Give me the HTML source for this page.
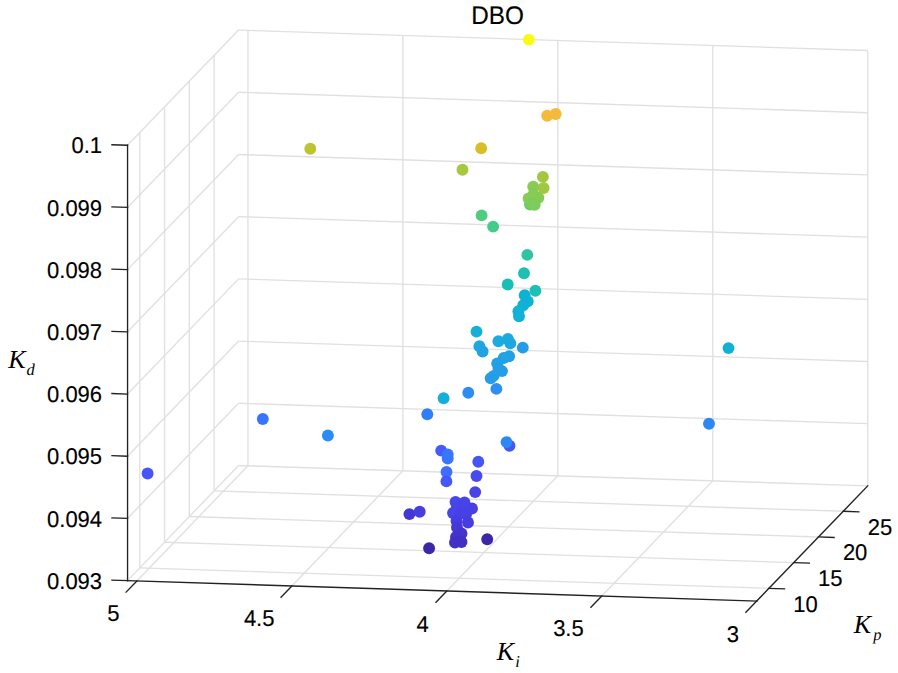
<!DOCTYPE html>
<html><head><meta charset="utf-8"><style>
html,body{margin:0;padding:0;background:#fff;overflow:hidden;}
svg{display:block;}
text{font-family:"Liberation Sans",sans-serif;fill:#000;stroke:#000;stroke-width:0.15px;}
.ser{font-family:"Liberation Serif",serif;font-style:italic;stroke:none;}
</style></head><body>
<svg width="898" height="673" viewBox="0 0 898 673" text-rendering="geometricPrecision">
<rect width="898" height="673" fill="#fff"/>
<g stroke-linecap="butt">
<line x1="247.94" y1="465.77" x2="247.94" y2="30.39" stroke="#e0e0e0" stroke-width="1.35"/>
<line x1="402.89" y1="470.80" x2="402.89" y2="35.42" stroke="#e0e0e0" stroke-width="1.35"/>
<line x1="557.84" y1="475.83" x2="557.84" y2="40.45" stroke="#e0e0e0" stroke-width="1.35"/>
<line x1="712.79" y1="480.86" x2="712.79" y2="45.48" stroke="#e0e0e0" stroke-width="1.35"/>
<line x1="867.74" y1="485.89" x2="867.74" y2="50.51" stroke="#e0e0e0" stroke-width="1.35"/>
<line x1="238.58" y1="465.46" x2="867.74" y2="485.89" stroke="#e0e0e0" stroke-width="1.35"/>
<line x1="238.58" y1="403.27" x2="867.74" y2="423.69" stroke="#e0e0e0" stroke-width="1.35"/>
<line x1="238.58" y1="341.07" x2="867.74" y2="361.49" stroke="#e0e0e0" stroke-width="1.35"/>
<line x1="238.58" y1="278.87" x2="867.74" y2="299.30" stroke="#e0e0e0" stroke-width="1.35"/>
<line x1="238.58" y1="216.68" x2="867.74" y2="237.10" stroke="#e0e0e0" stroke-width="1.35"/>
<line x1="238.58" y1="154.48" x2="867.74" y2="174.91" stroke="#e0e0e0" stroke-width="1.35"/>
<line x1="238.58" y1="92.29" x2="867.74" y2="112.71" stroke="#e0e0e0" stroke-width="1.35"/>
<line x1="238.58" y1="30.09" x2="867.74" y2="50.51" stroke="#e0e0e0" stroke-width="1.35"/>
<line x1="139.79" y1="567.92" x2="139.79" y2="132.55" stroke="#e0e0e0" stroke-width="1.35"/>
<line x1="164.56" y1="542.23" x2="164.56" y2="106.86" stroke="#e0e0e0" stroke-width="1.35"/>
<line x1="189.33" y1="516.54" x2="189.33" y2="81.17" stroke="#e0e0e0" stroke-width="1.35"/>
<line x1="214.10" y1="490.85" x2="214.10" y2="55.48" stroke="#e0e0e0" stroke-width="1.35"/>
<line x1="127.55" y1="580.62" x2="238.58" y2="465.46" stroke="#e0e0e0" stroke-width="1.35"/>
<line x1="127.55" y1="518.42" x2="238.58" y2="403.27" stroke="#e0e0e0" stroke-width="1.35"/>
<line x1="127.55" y1="456.23" x2="238.58" y2="341.07" stroke="#e0e0e0" stroke-width="1.35"/>
<line x1="127.55" y1="394.03" x2="238.58" y2="278.87" stroke="#e0e0e0" stroke-width="1.35"/>
<line x1="127.55" y1="331.84" x2="238.58" y2="216.68" stroke="#e0e0e0" stroke-width="1.35"/>
<line x1="127.55" y1="269.64" x2="238.58" y2="154.48" stroke="#e0e0e0" stroke-width="1.35"/>
<line x1="127.55" y1="207.44" x2="238.58" y2="92.29" stroke="#e0e0e0" stroke-width="1.35"/>
<line x1="127.55" y1="145.25" x2="238.58" y2="30.09" stroke="#e0e0e0" stroke-width="1.35"/>
<line x1="136.91" y1="580.92" x2="247.94" y2="465.77" stroke="#e0e0e0" stroke-width="1.35"/>
<line x1="291.86" y1="585.95" x2="402.89" y2="470.80" stroke="#e0e0e0" stroke-width="1.35"/>
<line x1="446.81" y1="590.98" x2="557.84" y2="475.83" stroke="#e0e0e0" stroke-width="1.35"/>
<line x1="601.76" y1="596.01" x2="712.79" y2="480.86" stroke="#e0e0e0" stroke-width="1.35"/>
<line x1="756.71" y1="601.04" x2="867.74" y2="485.89" stroke="#e0e0e0" stroke-width="1.35"/>
<line x1="139.79" y1="567.92" x2="768.95" y2="588.35" stroke="#e0e0e0" stroke-width="1.35"/>
<line x1="164.56" y1="542.23" x2="793.72" y2="562.66" stroke="#e0e0e0" stroke-width="1.35"/>
<line x1="189.33" y1="516.54" x2="818.49" y2="536.97" stroke="#e0e0e0" stroke-width="1.35"/>
<line x1="214.10" y1="490.85" x2="843.26" y2="511.28" stroke="#e0e0e0" stroke-width="1.35"/>
</g>
<g stroke-linecap="square">
<line x1="127.55" y1="580.62" x2="127.55" y2="145.25" stroke="#222222" stroke-width="1.35"/>
<line x1="127.55" y1="580.62" x2="756.71" y2="601.04" stroke="#222222" stroke-width="1.35"/>
<line x1="756.71" y1="601.04" x2="867.74" y2="485.89" stroke="#222222" stroke-width="1.35"/>
<line x1="127.55" y1="580.62" x2="111.96" y2="580.11" stroke="#222222" stroke-width="1.35"/>
<line x1="127.55" y1="518.42" x2="111.96" y2="517.92" stroke="#222222" stroke-width="1.35"/>
<line x1="127.55" y1="456.23" x2="111.96" y2="455.72" stroke="#222222" stroke-width="1.35"/>
<line x1="127.55" y1="394.03" x2="111.96" y2="393.53" stroke="#222222" stroke-width="1.35"/>
<line x1="127.55" y1="331.84" x2="111.96" y2="331.33" stroke="#222222" stroke-width="1.35"/>
<line x1="127.55" y1="269.64" x2="111.96" y2="269.13" stroke="#222222" stroke-width="1.35"/>
<line x1="127.55" y1="207.44" x2="111.96" y2="206.94" stroke="#222222" stroke-width="1.35"/>
<line x1="127.55" y1="145.25" x2="111.96" y2="144.74" stroke="#222222" stroke-width="1.35"/>
<line x1="136.91" y1="580.92" x2="126.08" y2="592.15" stroke="#222222" stroke-width="1.35"/>
<line x1="291.86" y1="585.95" x2="281.03" y2="597.18" stroke="#222222" stroke-width="1.35"/>
<line x1="446.81" y1="590.98" x2="435.98" y2="602.21" stroke="#222222" stroke-width="1.35"/>
<line x1="601.76" y1="596.01" x2="590.93" y2="607.24" stroke="#222222" stroke-width="1.35"/>
<line x1="756.71" y1="601.04" x2="745.88" y2="612.27" stroke="#222222" stroke-width="1.35"/>
<line x1="768.95" y1="588.35" x2="784.54" y2="588.85" stroke="#222222" stroke-width="1.35"/>
<line x1="793.72" y1="562.66" x2="809.31" y2="563.16" stroke="#222222" stroke-width="1.35"/>
<line x1="818.49" y1="536.97" x2="834.08" y2="537.47" stroke="#222222" stroke-width="1.35"/>
<line x1="843.26" y1="511.28" x2="858.85" y2="511.78" stroke="#222222" stroke-width="1.35"/>
</g>
<text transform="translate(102.10 588.72) scale(1 1.04)" text-anchor="end" font-size="22" >0.093</text>
<text transform="translate(102.10 526.52) scale(1 1.04)" text-anchor="end" font-size="22" >0.094</text>
<text transform="translate(102.10 464.33) scale(1 1.04)" text-anchor="end" font-size="22" >0.095</text>
<text transform="translate(102.10 402.13) scale(1 1.04)" text-anchor="end" font-size="22" >0.096</text>
<text transform="translate(102.10 339.94) scale(1 1.04)" text-anchor="end" font-size="22" >0.097</text>
<text transform="translate(102.10 277.74) scale(1 1.04)" text-anchor="end" font-size="22" >0.098</text>
<text transform="translate(102.10 215.54) scale(1 1.04)" text-anchor="end" font-size="22" >0.099</text>
<text transform="translate(102.10 153.35) scale(1 1.04)" text-anchor="end" font-size="22" >0.1</text>
<text transform="translate(119.48 621.25) scale(1 1.04)" text-anchor="end" font-size="22" >5</text>
<text transform="translate(274.48 626.28) scale(1 1.04)" text-anchor="end" font-size="22" >4.5</text>
<text transform="translate(428.68 631.61) scale(1 1.04)" text-anchor="end" font-size="22" >4</text>
<text transform="translate(583.73 636.44) scale(1 1.04)" text-anchor="end" font-size="22" >3.5</text>
<text transform="translate(738.98 641.87) scale(1 1.04)" text-anchor="end" font-size="22" >3</text>
<text transform="translate(793.34 611.85) scale(1 1.04)" text-anchor="start" font-size="22" >10</text>
<text transform="translate(818.11 586.16) scale(1 1.04)" text-anchor="start" font-size="22" >15</text>
<text transform="translate(842.88 560.47) scale(1 1.04)" text-anchor="start" font-size="22" >20</text>
<text transform="translate(867.65 534.78) scale(1 1.04)" text-anchor="start" font-size="22" >25</text>
<text transform="translate(497.6 24.0) scale(1 1.05)" text-anchor="middle" font-size="24.3">DBO</text>
<text class="ser" x="8.2" y="368.4" font-size="26">K<tspan font-size="16.5" dx="0.9" dy="6.4">d</tspan></text>
<text class="ser" x="496.8" y="659.6" font-size="26">K<tspan font-size="16.5" dx="1.0" dy="7.2">i</tspan></text>
<text class="ser" x="853.8" y="633.0" font-size="26">K<tspan font-size="16.5" dx="2.0" dy="7.2">p</tspan></text>
<circle cx="528.9" cy="39.6" r="5.95" fill="#f9fb15" stroke="#e0e112" stroke-width="0.0"/>
<circle cx="547.2" cy="115.7" r="5.95" fill="#f4ba39" stroke="#dba733" stroke-width="0.0"/>
<circle cx="555.7" cy="114.0" r="5.95" fill="#f5ba3a" stroke="#dca734" stroke-width="0.0"/>
<circle cx="481.2" cy="148.3" r="5.95" fill="#d9be28" stroke="#c3ab24" stroke-width="0.0"/>
<circle cx="310.3" cy="148.7" r="5.95" fill="#bcc42f" stroke="#a9b02a" stroke-width="0.0"/>
<circle cx="462.5" cy="169.7" r="5.95" fill="#a5c83d" stroke="#94b436" stroke-width="0.0"/>
<circle cx="542.9" cy="176.9" r="5.95" fill="#a3c83f" stroke="#92b438" stroke-width="0.0"/>
<circle cx="543.6" cy="188.0" r="5.95" fill="#a0c941" stroke="#90b43a" stroke-width="0.0"/>
<circle cx="530.0" cy="204.5" r="5.95" fill="#62cd70" stroke="#58b864" stroke-width="0.0"/>
<circle cx="533.2" cy="186.6" r="5.95" fill="#8acb52" stroke="#7cb649" stroke-width="0.0"/>
<circle cx="533.5" cy="194.5" r="5.95" fill="#86cb55" stroke="#78b64c" stroke-width="0.0"/>
<circle cx="528.6" cy="198.5" r="5.95" fill="#8acb52" stroke="#7cb649" stroke-width="0.0"/>
<circle cx="538.4" cy="197.7" r="5.95" fill="#88cb53" stroke="#7ab64a" stroke-width="0.0"/>
<circle cx="531.2" cy="203.0" r="5.95" fill="#7acc5d" stroke="#6db753" stroke-width="0.0"/>
<circle cx="534.7" cy="204.8" r="5.95" fill="#7ecc5b" stroke="#71b751" stroke-width="0.0"/>
<circle cx="481.6" cy="215.4" r="5.95" fill="#50cc80" stroke="#48b773" stroke-width="0.0"/>
<circle cx="493.1" cy="226.6" r="5.95" fill="#45cb88" stroke="#3eb67a" stroke-width="0.0"/>
<circle cx="527.3" cy="254.9" r="5.95" fill="#2fc5a2" stroke="#2ab191" stroke-width="0.0"/>
<circle cx="524.0" cy="273.3" r="5.95" fill="#1ec0b2" stroke="#1baca0" stroke-width="0.0"/>
<circle cx="507.7" cy="284.5" r="5.95" fill="#19bfb5" stroke="#16aba2" stroke-width="0.0"/>
<circle cx="535.4" cy="290.7" r="5.95" fill="#1dc0b3" stroke="#1aaca1" stroke-width="0.0"/>
<circle cx="524.7" cy="295.2" r="5.95" fill="#0db3d3" stroke="#0ba1bd" stroke-width="0.0"/>
<circle cx="527.8" cy="301.4" r="5.95" fill="#0fb2d4" stroke="#0da0be" stroke-width="0.0"/>
<circle cx="523.2" cy="305.2" r="5.95" fill="#0fb2d4" stroke="#0da0be" stroke-width="0.0"/>
<circle cx="518.4" cy="311.2" r="5.95" fill="#11b2d5" stroke="#0fa0bf" stroke-width="0.0"/>
<circle cx="519.0" cy="316.3" r="5.95" fill="#12b1d7" stroke="#109fc1" stroke-width="0.0"/>
<circle cx="476.5" cy="331.6" r="5.95" fill="#14b0d8" stroke="#129ec2" stroke-width="0.0"/>
<circle cx="728.5" cy="348.1" r="5.95" fill="#11b1d6" stroke="#0f9fc0" stroke-width="0.0"/>
<circle cx="498.4" cy="341.2" r="5.95" fill="#1babde" stroke="#1899c7" stroke-width="0.0"/>
<circle cx="507.9" cy="339.0" r="5.95" fill="#1aacdd" stroke="#179ac6" stroke-width="0.0"/>
<circle cx="510.3" cy="343.2" r="5.95" fill="#1da8e0" stroke="#1a97c9" stroke-width="0.0"/>
<circle cx="479.4" cy="346.2" r="5.95" fill="#1ea7e1" stroke="#1b96ca" stroke-width="0.0"/>
<circle cx="482.6" cy="351.5" r="5.95" fill="#21a2e4" stroke="#1d91cd" stroke-width="0.0"/>
<circle cx="522.8" cy="347.6" r="5.95" fill="#259ce7" stroke="#218ccf" stroke-width="0.0"/>
<circle cx="509.1" cy="356.3" r="5.95" fill="#22a1e4" stroke="#1e90cd" stroke-width="0.0"/>
<circle cx="503.7" cy="358.0" r="5.95" fill="#22a1e4" stroke="#1e90cd" stroke-width="0.0"/>
<circle cx="497.2" cy="363.4" r="5.95" fill="#22a1e4" stroke="#1e90cd" stroke-width="0.0"/>
<circle cx="502.0" cy="371.1" r="5.95" fill="#249ee6" stroke="#208ecf" stroke-width="0.0"/>
<circle cx="498.5" cy="368.5" r="5.95" fill="#249ee6" stroke="#208ecf" stroke-width="0.0"/>
<circle cx="493.6" cy="375.9" r="5.95" fill="#249ee6" stroke="#208ecf" stroke-width="0.0"/>
<circle cx="490.7" cy="378.2" r="5.95" fill="#259de7" stroke="#218dcf" stroke-width="0.0"/>
<circle cx="496.4" cy="388.9" r="5.95" fill="#2c8ff1" stroke="#2780d8" stroke-width="0.0"/>
<circle cx="468.3" cy="392.7" r="5.95" fill="#2d8cf3" stroke="#287eda" stroke-width="0.0"/>
<circle cx="443.6" cy="398.3" r="5.95" fill="#15afd9" stroke="#129dc3" stroke-width="0.0"/>
<circle cx="427.3" cy="414.3" r="5.95" fill="#317efb" stroke="#2c71e1" stroke-width="0.0"/>
<circle cx="262.8" cy="419.0" r="5.95" fill="#3875fe" stroke="#3269e4" stroke-width="0.0"/>
<circle cx="709.0" cy="423.8" r="5.95" fill="#2d88f6" stroke="#287add" stroke-width="0.0"/>
<circle cx="327.9" cy="435.5" r="5.95" fill="#2d8cf3" stroke="#287eda" stroke-width="0.0"/>
<circle cx="509.5" cy="445.7" r="5.95" fill="#4755f6" stroke="#3f4cdd" stroke-width="0.0"/>
<circle cx="506.5" cy="442.1" r="5.95" fill="#2d88f6" stroke="#287add" stroke-width="0.0"/>
<circle cx="441.2" cy="450.6" r="5.95" fill="#4759f9" stroke="#3f50e0" stroke-width="0.0"/>
<circle cx="447.7" cy="454.4" r="5.95" fill="#3776fe" stroke="#316ae4" stroke-width="0.0"/>
<circle cx="447.7" cy="458.5" r="5.95" fill="#3776fe" stroke="#316ae4" stroke-width="0.0"/>
<circle cx="478.3" cy="461.7" r="5.95" fill="#4755f6" stroke="#3f4cdd" stroke-width="0.0"/>
<circle cx="147.6" cy="473.5" r="5.95" fill="#4755f6" stroke="#3f4cdd" stroke-width="0.0"/>
<circle cx="446.5" cy="472.0" r="5.95" fill="#3f6eff" stroke="#3863e5" stroke-width="0.0"/>
<circle cx="476.5" cy="476.0" r="5.95" fill="#484aee" stroke="#4042d6" stroke-width="0.0"/>
<circle cx="446.4" cy="481.4" r="5.95" fill="#4758f8" stroke="#3f4fdf" stroke-width="0.0"/>
<circle cx="475.2" cy="492.1" r="5.95" fill="#4743e7" stroke="#3f3ccf" stroke-width="0.0"/>
<circle cx="455.5" cy="502.0" r="5.95" fill="#4747eb" stroke="#3f3fd3" stroke-width="0.0"/>
<circle cx="464.5" cy="502.5" r="5.95" fill="#4745e9" stroke="#3f3ed1" stroke-width="0.0"/>
<circle cx="472.0" cy="508.5" r="5.95" fill="#4741e5" stroke="#3f3ace" stroke-width="0.0"/>
<circle cx="457.0" cy="507.5" r="5.95" fill="#4745e9" stroke="#3f3ed1" stroke-width="0.0"/>
<circle cx="464.0" cy="508.0" r="5.95" fill="#4743e7" stroke="#3f3ccf" stroke-width="0.0"/>
<circle cx="466.0" cy="514.5" r="5.95" fill="#4740e3" stroke="#3f39cc" stroke-width="0.0"/>
<circle cx="453.0" cy="513.0" r="5.95" fill="#4745e9" stroke="#3f3ed1" stroke-width="0.0"/>
<circle cx="460.0" cy="513.5" r="5.95" fill="#4741e5" stroke="#3f3ace" stroke-width="0.0"/>
<circle cx="409.4" cy="514.1" r="5.95" fill="#4537d6" stroke="#3e31c0" stroke-width="0.0"/>
<circle cx="419.7" cy="511.7" r="5.95" fill="#463ee1" stroke="#3f37ca" stroke-width="0.0"/>
<circle cx="468.0" cy="522.5" r="5.95" fill="#463cdf" stroke="#3f36c8" stroke-width="0.0"/>
<circle cx="456.5" cy="521.0" r="5.95" fill="#463cdf" stroke="#3f36c8" stroke-width="0.0"/>
<circle cx="457.0" cy="527.5" r="5.95" fill="#4538d8" stroke="#3e32c2" stroke-width="0.0"/>
<circle cx="461.5" cy="533.5" r="5.95" fill="#4434cf" stroke="#3d2eba" stroke-width="0.0"/>
<circle cx="456.0" cy="537.0" r="5.95" fill="#4433cc" stroke="#3d2db7" stroke-width="0.0"/>
<circle cx="455.0" cy="542.5" r="5.95" fill="#4331c5" stroke="#3c2cb1" stroke-width="0.0"/>
<circle cx="461.5" cy="542.0" r="5.95" fill="#4230c4" stroke="#3b2bb0" stroke-width="0.0"/>
<circle cx="487.2" cy="539.2" r="5.95" fill="#3e26a8" stroke="#372297" stroke-width="0.0"/>
<circle cx="429.1" cy="548.2" r="5.95" fill="#3e26a8" stroke="#372297" stroke-width="0.0"/>
</svg>
</body></html>
